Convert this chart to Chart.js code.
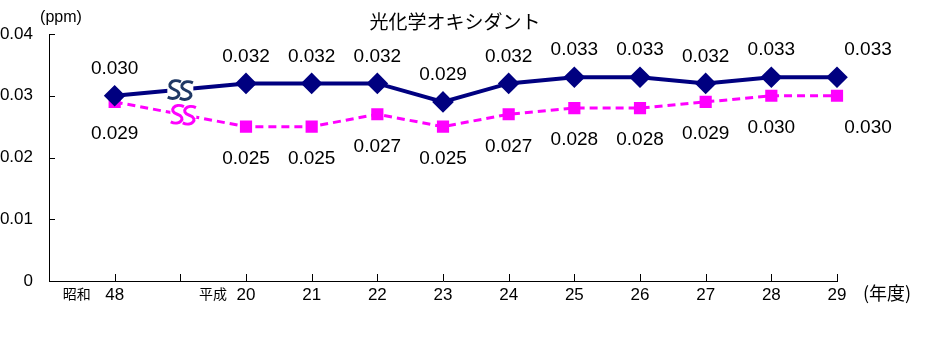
<!DOCTYPE html>
<html>
<head>
<meta charset="utf-8">
<script src="https://cdn.jsdelivr.net/npm/chart.js@4/dist/chart.umd.min.js"></script>
<style>
  html, body { margin: 0; padding: 0; background: #fff; }
  #wrap { width: 935px; height: 363px; }
</style>
</head>
<body>
<div id="wrap"><canvas id="chart" width="935" height="363"></canvas></div>
<script>
// categories (first slot is empty so the axis starts one step left of 48, third is the break)
const years = ['', '48', '', '20', '21', '22', '23', '24', '25', '26', '27', '28', '29'];
const upperValues = [null, 0.030, null, 0.032, 0.032, 0.032, 0.029, 0.032, 0.033, 0.033, 0.032, 0.033, 0.033];
const lowerValues = [null, 0.029, null, 0.025, 0.025, 0.027, 0.025, 0.027, 0.028, 0.028, 0.029, 0.030, 0.030];
const yTicks = [0, 0.01, 0.02, 0.03, 0.04];

const NAVY = '#000080';
const PINK = '#FF00FF';
const numFont = '"Liberation Sans", Arial, sans-serif';
const jpFont = '"Noto Sans CJK JP", sans-serif';

// one "S" of the break mark
function drawS(ctx, cx, cy, w, h) {
  ctx.beginPath();
  ctx.moveTo(cx + w * 0.6, cy - h * 0.45);
  ctx.bezierCurveTo(cx - w * 0.2, cy - h * 0.7, cx - w * 0.9, cy - h * 0.2, cx, cy);
  ctx.bezierCurveTo(cx + w * 0.9, cy + h * 0.2, cx + w * 0.2, cy + h * 0.7, cx - w * 0.6, cy + h * 0.45);
  ctx.stroke();
}

// tick marks inside the plot, value labels, era names, break marks
const extras = {
  id: 'extras',
  afterDraw(chart) {
    const ctx = chart.ctx;
    const x = chart.scales.x, y = chart.scales.y;
    const area = chart.chartArea;
    ctx.save();
    ctx.strokeStyle = '#000';
    ctx.lineWidth = 1;
    ctx.beginPath();
    for (let i = 1; i < years.length; i++) {
      const px = Math.round(x.getPixelForValue(i)) + 0.5;
      ctx.moveTo(px, area.bottom);
      ctx.lineTo(px, area.bottom - 7);
    }
    yTicks.forEach(v => {
      const py = Math.round(y.getPixelForValue(v)) + 0.5;
      ctx.moveTo(area.left, py);
      ctx.lineTo(area.left + 6, py);
    });
    ctx.stroke();

    // break marks
    const drawBreak = (di, color, shift) => {
      const meta = chart.getDatasetMeta(di);
      const a = meta.data[1], b = meta.data[3];
      const mx = (a.x + b.x) / 2 + shift, my = (a.y + b.y) / 2;
      ctx.fillStyle = '#fff';
      ctx.fillRect(mx - 13, my - 4, 26, 8);
      ctx.strokeStyle = color;
      ctx.lineWidth = 3;
      ctx.lineCap = 'butt';
      drawS(ctx, mx - 6, my, 11, 17);
      drawS(ctx, mx + 6, my + 1, 11, 17);
    };
    drawBreak(0, '#1F3864', 0);
    drawBreak(1, PINK, 3);

    // value labels
    ctx.fillStyle = '#000';
    ctx.font = '19px ' + numFont;
    ctx.textAlign = 'center';
    ctx.textBaseline = 'middle';
    const last = years.length - 1;
    [[0, upperValues, -27], [1, lowerValues, 32]].forEach(([di, vals, dy]) => {
      const meta = chart.getDatasetMeta(di);
      vals.forEach((v, i) => {
        if (v === null) return;
        const pt = meta.data[i];
        const dx = i === last ? 31 : 0;
        ctx.fillText(v.toFixed(3), pt.x + dx, pt.y + dy);
      });
    });

    // era names
    ctx.font = '14px ' + jpFont;
    ctx.fillText('昭和', x.getPixelForValue(1) - 38, area.bottom + 13);
    ctx.fillText('平成', x.getPixelForValue(3) - 33, area.bottom + 13);
    ctx.restore();
  }
};

new Chart(document.getElementById('chart'), {
  type: 'line',
  data: {
    labels: years,
    datasets: [
      {
        data: upperValues,
        borderColor: NAVY,
        backgroundColor: NAVY,
        borderWidth: 4,
        pointStyle: 'rectRot',
        pointRadius: 8,
        pointHoverRadius: 8,
        spanGaps: true,
        tension: 0
      },
      {
        data: lowerValues,
        borderColor: PINK,
        backgroundColor: PINK,
        borderWidth: 3,
        borderDash: [8, 5],
        pointStyle: 'rect',
        pointRadius: 6.5,
        pointHoverRadius: 6.5,
        spanGaps: true,
        tension: 0
      }
    ]
  },
  options: {
    responsive: false,
    animation: false,
    events: [],
    layout: { padding: { top: 34, right: 98, left: 0, bottom: 0 } },
    plugins: {
      legend: { display: false },
      tooltip: { enabled: false },
      title: { display: false }
    },
    scales: {
      x: {
        offset: false,
        grid: { display: false, drawTicks: false },
        border: { display: true, color: '#000', width: 1 },
        ticks: {
          autoSkip: false,
          maxRotation: 0,
          padding: 4,
          color: '#000',
          font: { family: numFont, size: 17 }
        },
        afterFit(s) { s.height = 82; }
      },
      y: {
        min: 0,
        max: 0.04,
        grid: { display: false, drawTicks: false },
        border: { display: true, color: '#000', width: 1 },
        ticks: {
          stepSize: 0.01,
          padding: 16,
          color: '#000',
          font: { family: numFont, size: 17 },
          callback: v => (v === 0 ? '0' : v.toFixed(2))
        },
        afterFit(s) { s.width = 49; }
      }
    }
  },
  plugins: [extras, {
    id: 'texts',
    afterDraw(chart) {
      const ctx = chart.ctx;
      ctx.save();
      ctx.fillStyle = '#000';
      ctx.textBaseline = 'middle';
      ctx.textAlign = 'center';
      ctx.font = '19px ' + jpFont;
      ctx.fillText('光化学オキシダント', 455, 22);
      ctx.font = '16px ' + numFont;
      ctx.fillText('(ppm)', 61, 18);
      ctx.font = '18px ' + jpFont;
      ctx.fillText('(年度)', 887, 293);
      ctx.restore();
    }
  }]
});
</script>
</body>
</html>
